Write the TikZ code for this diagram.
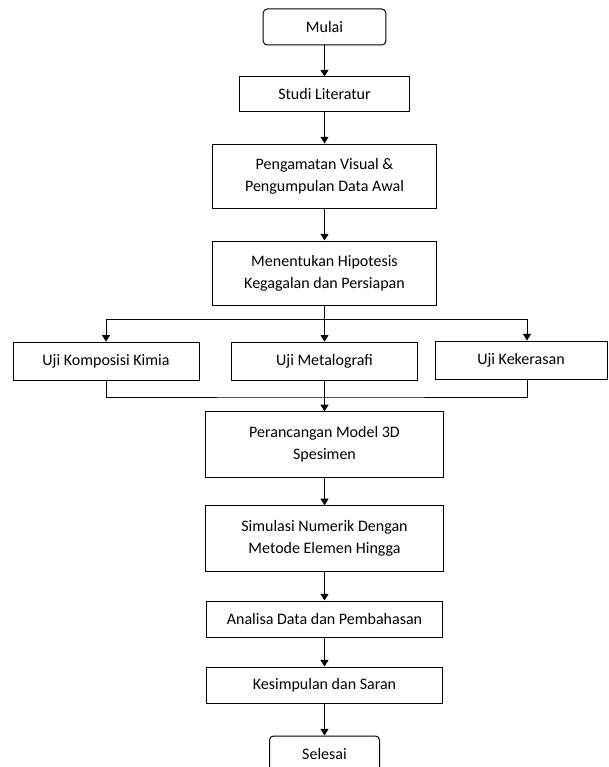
\documentclass[tikz,border=0pt]{standalone}
\usepackage{fontspec}
\setmainfont{Carlito}
\usetikzlibrary{arrows.meta}
\begin{document}
\begin{tikzpicture}[x=0.75pt, y=-0.75pt, line width=0.75pt,
  every node/.append style={font=\fontsize{12}{16.5}\selectfont, align=center, inner sep=0pt},
  box/.style={draw, minimum width=#1},
  box/.default=171,
  ujung/.style={draw, rounded corners=3pt, minimum width=#1, minimum height=27pt},
  arr/.style={-{Triangle[width=6pt,length=5pt]}}]
  \useasboundingbox (0,0) rectangle (608,767);
  \node[ujung=92pt] (mulai) at (324.5,27) {Mulai};
  \node[box=128pt, minimum height=25.5pt] (studi) at (324.5,94) {Studi Literatur};
  \node[box=168pt, minimum height=48pt] (amati) at (324.5,176) {Pengamatan Visual \&\\Pengumpulan Data Awal};
  \node[box=168pt, minimum height=48pt] (hipo) at (324.5,273) {Menentukan Hipotesis\\Kegagalan dan Persiapan};
  \node[box=139.5pt, minimum height=29pt] (kimia) at (106,361.5) {Uji Komposisi Kimia};
  \node[box=139pt, minimum height=29pt] (metal) at (324.5,361.5) {Uji Metalografi};
  \node[box=129pt, minimum height=28.5pt] (keras) at (521,360) {Uji Kekerasan};
  \node[box=178pt, minimum height=49pt] (model) at (324.5,444.5) {Perancangan Model 3D\\Spesimen};
  \node[box=178pt, minimum height=49pt] (simul) at (324.5,538.5) {Simulasi Numerik Dengan\\Metode Elemen Hingga};
  \node[box=177pt, minimum height=27pt] (analisa) at (324.5,619) {Analisa Data dan Pembahasan};
  \node[box=177pt, minimum height=27pt] (simpul) at (324.5,685) {Kesimpulan dan Saran};
  \node[ujung=82.5pt] (selesai) at (324.5,754) {Selesai};
  \coordinate (cabang) at (324.5,319);
  \coordinate (gabung) at (324.5,397);
  \draw[arr] (mulai) -- (studi);
  \draw[arr] (studi) -- (amati);
  \draw[arr] (amati) -- (hipo);
  \draw[arr] (hipo) -- (metal);
  \draw[arr] (cabang) -| (kimia);
  \draw[arr] (cabang) -| ([xshift=4.5pt]keras.north);
  \draw (kimia) |- (gabung) -| ([xshift=4.5pt]keras.south);
  \draw (metal) -- (gabung);
  \draw[arr] (gabung) -- (model);
  \draw[arr] (model) -- (simul);
  \draw[arr] (simul) -- (analisa);
  \draw[arr] (analisa) -- (simpul);
  \draw[arr] (simpul) -- (selesai);
\end{tikzpicture}
\end{document}
